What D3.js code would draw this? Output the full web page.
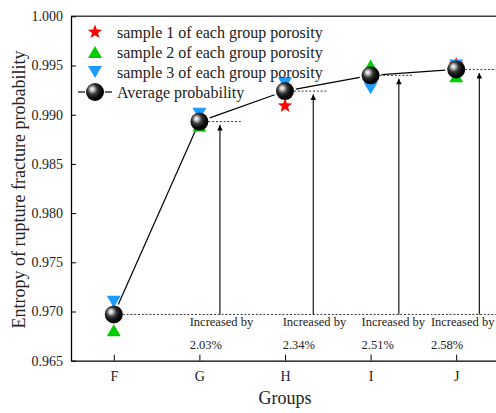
<!DOCTYPE html>
<html><head><meta charset="utf-8">
<script src="https://cdn.jsdelivr.net/npm/d3@7"></script>
<style>body{margin:0;background:#fff}svg{display:block}</style></head>
<body><svg id="c" width="496" height="413"></svg>
<script>
const groups = ["F","G","H","I","J"];
const sample1 = [0.9700, 0.9888, 0.9909, 0.9943, 0.9951];
const sample2 = [0.9681, 0.9889, 0.9931, 0.9950, 0.9939];
const sample3 = [0.9710, 0.9901, 0.9932, 0.9927, 0.9950];
const average = [0.9697, 0.9893, 0.9924, 0.9940, 0.9946];
const increases = ["2.03%", "2.34%", "2.51%", "2.58%"];
const yTicks = [0.965, 0.970, 0.975, 0.980, 0.985, 0.990, 0.995, 1.000];
const legendLabels = ["sample 1 of each group porosity","sample 2 of each group porosity","sample 3 of each group porosity","Average probability"];

const W=496,H=413;
const m={l:71,t:16.3,r:499,b:360.7};
const svg=d3.select("#c");
const FONT="'Liberation Serif','Times New Roman',serif";
const x=d3.scalePoint().domain(groups).range([m.l,m.r]).padding(0.5);
const y=d3.scaleLinear().domain([0.965,1.000]).range([m.b,m.t]);
const step=x.step();

const defs=svg.append("defs");
const g=defs.append("radialGradient").attr("id","sph").attr("cx","40%").attr("cy","40%").attr("r","60%").attr("fx","33%").attr("fy","33%");
[[0,"#ffffff"],[0.18,"#c8c8c8"],[0.45,"#3a3a3a"],[0.75,"#0a0a0a"],[1,"#000"]].forEach(([o,c])=>g.append("stop").attr("offset",o).attr("stop-color",c));
defs.append("marker").attr("id","arr").attr("viewBox","0 0 10 10").attr("refX",10).attr("refY",5)
  .attr("markerWidth",8).attr("markerHeight",5.5).attr("markerUnits","userSpaceOnUse").attr("orient","auto")
  .append("path").attr("d","M0,0L10,5L0,10Z").attr("fill","#000");

const RED="#ff0000",GREEN="#00cc00",BLUE="#1e9bff";
function star(r){const R=r, ri=r*0.42;let p=[];for(let i=0;i<10;i++){const a=-Math.PI/2+i*Math.PI/5;const rr=i%2?ri:R;p.push([rr*Math.cos(a),rr*Math.sin(a)]);}return "M"+p.map(d=>d.join(",")).join("L")+"Z";}
const triUp="M0,-6L7,6L-7,6Z", triDown="M0,6L7,-6L-7,-6Z";
const R=9;

// axes frame
svg.append("line").attr("x1",m.l).attr("x2",m.r).attr("y1",m.t).attr("y2",m.t).attr("stroke","#444").attr("stroke-width",1.5);
svg.append("line").attr("x1",m.r).attr("x2",m.r).attr("y1",m.t).attr("y2",m.b).attr("stroke","#000").attr("stroke-width",1.3);
const ya=svg.append("g").attr("transform",`translate(${m.l},0)`).call(d3.axisLeft(y).tickValues(yTicks).tickFormat(d3.format(".3f")).tickSizeInner(-5).tickSizeOuter(0).tickPadding(8));
ya.select(".domain").attr("stroke-width",1.3);
ya.selectAll("text").attr("font-family",FONT).attr("font-size",14).attr("fill","#222");
const xa=svg.append("g").attr("transform",`translate(0,${m.b})`).call(d3.axisBottom(x).tickSizeInner(-6).tickSizeOuter(0).tickPadding(10));
xa.select(".domain").attr("stroke-width",1.3);
xa.selectAll("text").attr("font-family",FONT).attr("font-size",14).attr("fill","#222");

// dotted reference lines
groups.forEach((k,i)=>{
  const x0=x(k)+R, x1=(i===0||i===groups.length-1)?m.r:x(k)+step*0.5;
  svg.append("line").attr("x1",x0).attr("x2",x1).attr("y1",y(average[i])).attr("y2",y(average[i]))
    .attr("stroke","#333").attr("stroke-width",1).attr("stroke-dasharray","2,1.8");
});
// arrows
const arrOff=[0.24,0.33,0.33,0.27];
const txtOff=[-9.7,-2.3,-9,-25.3];
groups.slice(1).forEach((k,j)=>{
  const i=j+1, ax=x(k)+arrOff[j]*step;
  svg.append("line").attr("x1",ax).attr("x2",ax).attr("y1",y(average[0])).attr("y2",y(average[i])+3.5)
    .attr("stroke","#000").attr("stroke-width",1.1).attr("marker-end","url(#arr)");
  svg.append("text").attr("x",x(k)+txtOff[j]).attr("y",326).attr("font-family",FONT).attr("font-size",12.5).attr("fill","#222").text("Increased by");
  svg.append("text").attr("x",x(k)+txtOff[j]).attr("y",349).attr("font-family",FONT).attr("font-size",12.5).attr("fill","#222").text(increases[j]);
});
// average line with gaps
for(let i=0;i<groups.length-1;i++){
  const xa0=x(groups[i]),ya0=y(average[i]),xb=x(groups[i+1]),yb=y(average[i+1]);
  const dx=xb-xa0,dy=yb-ya0,L=Math.hypot(dx,dy),g2=R+2;
  svg.append("line").attr("x1",xa0+dx/L*g2).attr("y1",ya0+dy/L*g2).attr("x2",xb-dx/L*g2).attr("y2",yb-dy/L*g2)
    .attr("stroke","#000").attr("stroke-width",1.2);
}
// samples
const pts=svg.append("g");
pts.selectAll(".s1").data(sample1).join("path").attr("d",star(7.5)).attr("fill",RED).attr("transform",(d,i)=>`translate(${x(groups[i])},${y(d)})`);
pts.selectAll(".s2").data(sample2).join("path").attr("d",triUp).attr("fill",GREEN).attr("transform",(d,i)=>`translate(${x(groups[i])},${y(d)})`);
pts.selectAll(".s3").data(sample3).join("path").attr("d",triDown).attr("fill",BLUE).attr("transform",(d,i)=>`translate(${x(groups[i])},${y(d)})`);
pts.selectAll(".av").data(average).join("circle").attr("cx",(d,i)=>x(groups[i])).attr("cy",d=>y(d)).attr("r",R).attr("fill","url(#sph)");

// legend
const lx=95, ly=[32,52,72,92];
svg.append("path").attr("d",star(7.5)).attr("fill",RED).attr("transform",`translate(${lx},${ly[0]})`);
svg.append("path").attr("d",triUp).attr("fill",GREEN).attr("transform",`translate(${lx},${ly[1]})`);
svg.append("path").attr("d",triDown).attr("fill",BLUE).attr("transform",`translate(${lx},${ly[2]})`);
svg.append("line").attr("x1",78).attr("x2",85).attr("y1",ly[3]).attr("y2",ly[3]).attr("stroke","#000").attr("stroke-width",1.2);
svg.append("line").attr("x1",105).attr("x2",112).attr("y1",ly[3]).attr("y2",ly[3]).attr("stroke","#000").attr("stroke-width",1.2);
svg.append("circle").attr("cx",lx).attr("cy",ly[3]).attr("r",R).attr("fill","url(#sph)");
legendLabels.forEach((t,i)=>svg.append("text").attr("x",117).attr("y",ly[i]).attr("dy","0.35em").attr("font-family",FONT).attr("font-size",16).attr("fill","#222").text(t));

// axis titles
svg.append("text").attr("x",285).attr("y",404).attr("text-anchor","middle").attr("font-family",FONT).attr("font-size",18).attr("fill","#222").text("Groups");
svg.append("text").attr("transform","translate(25,189.5) rotate(-90)").attr("text-anchor","middle").attr("font-family",FONT).attr("font-size",18).attr("fill","#222").text("Entropy of rupture fracture probability");
</script></body></html>
